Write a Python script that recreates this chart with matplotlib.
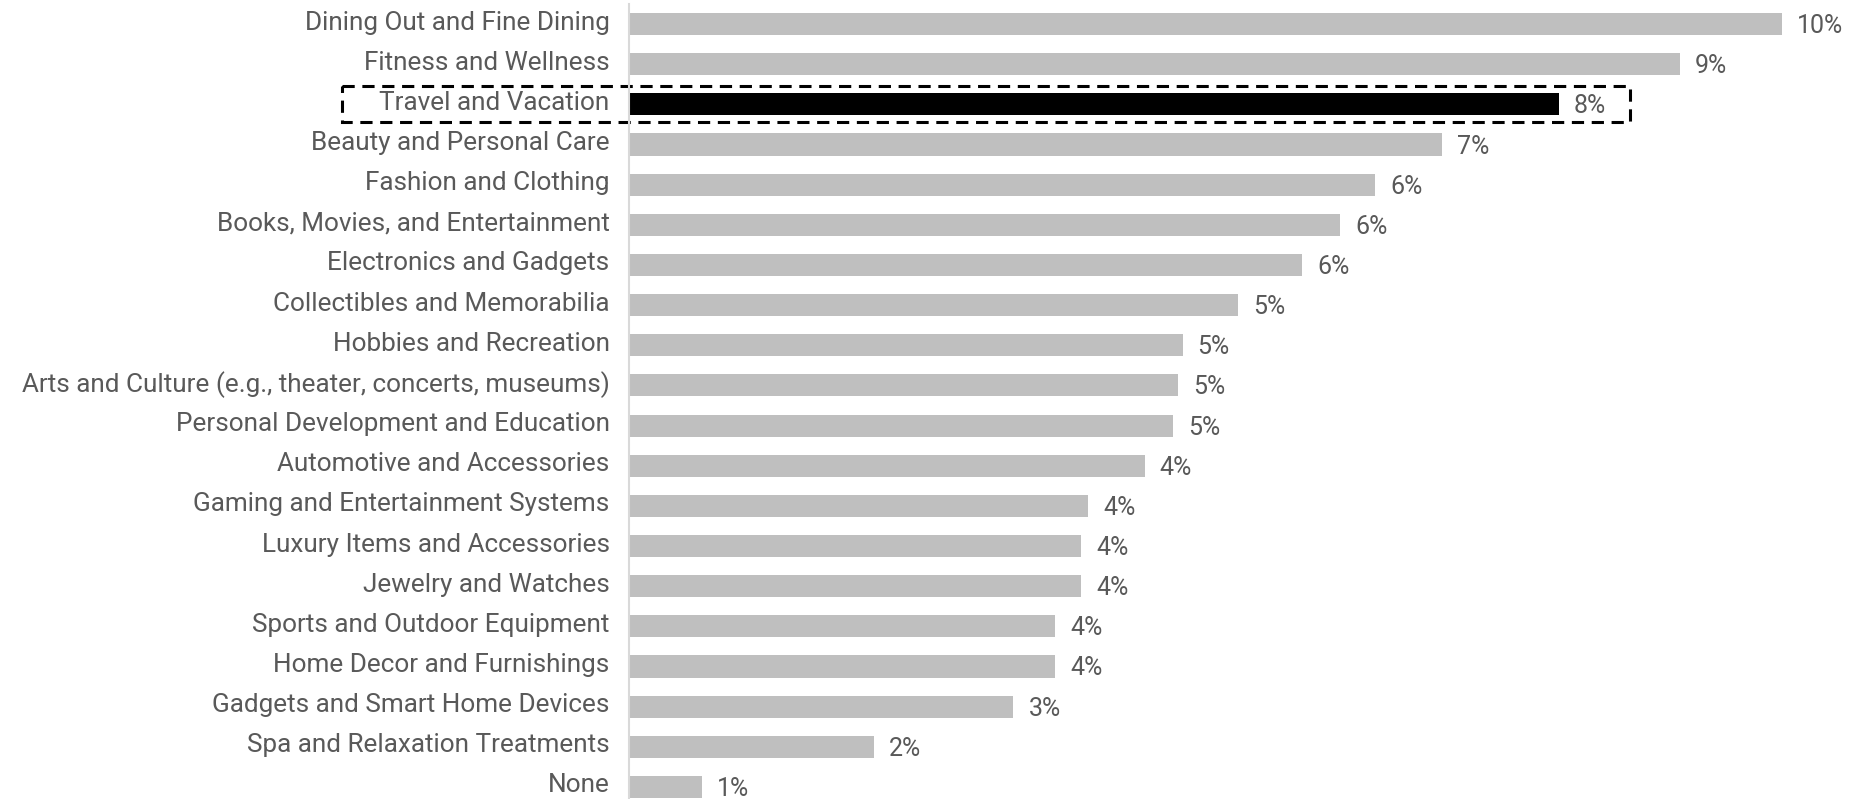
import matplotlib.pyplot as plt
import matplotlib.transforms as mtransforms
from matplotlib.patches import Rectangle

categories = [
    "Dining Out and Fine Dining",
    "Fitness and Wellness",
    "Travel and Vacation",
    "Beauty and Personal Care",
    "Fashion and Clothing",
    "Books, Movies, and Entertainment",
    "Electronics and Gadgets",
    "Collectibles and Memorabilia",
    "Hobbies and Recreation",
    "Arts and Culture (e.g., theater, concerts, museums)",
    "Personal Development and Education",
    "Automotive and Accessories",
    "Gaming and Entertainment Systems",
    "Luxury Items and Accessories",
    "Jewelry and Watches",
    "Sports and Outdoor Equipment",
    "Home Decor and Furnishings",
    "Gadgets and Smart Home Devices",
    "Spa and Relaxation Treatments",
    "None",
]
values = [9.75, 8.88, 7.86, 6.87, 6.31, 6.01, 5.69, 5.15, 4.68, 4.64,
          4.60, 4.36, 3.88, 3.82, 3.82, 3.60, 3.60, 3.25, 2.07, 0.62]
labels = ["10%", "9%", "8%", "7%", "6%", "6%", "6%", "5%", "5%", "5%",
          "5%", "4%", "4%", "4%", "4%", "4%", "4%", "3%", "2%", "1%"]
highlight = "Travel and Vacation"

plt.rcParams['font.family'] = ['Roboto', 'DejaVu Sans']
text_color = "#595959"

W, H = 1855, 799
fig = plt.figure(figsize=(W / 100, H / 100), dpi=100)
left_px, top_px = 629, 4
ax = fig.add_axes([left_px / W, 0, 1 - left_px / W, (H - top_px) / H])

colors = ["#000000" if c == highlight else "#bfbfbf" for c in categories]
y = list(range(len(categories)))
ax.barh(y, values, height=0.55, color=colors)

for yi, v, lab in zip(y, values, labels):
    ax.annotate(lab, (v, yi), xytext=(15, -2), textcoords="offset pixels",
                va="center", ha="left", fontsize=18, color=text_color)

ax.set_xlim(0, (W - left_px) / 118.3)
ax.set_ylim(19.3, -0.5)
ax.set_yticks(y)
ax.set_yticklabels(categories, fontsize=18.8, color=text_color)
ax.tick_params(axis="y", length=0, pad=14)
# labels sit a little above the bar centres in the original
shift = mtransforms.ScaledTranslation(0, 4 / 100, fig.dpi_scale_trans)
for t in ax.get_yticklabels():
    t.set_transform(t.get_transform() + shift)
ax.set_xticks([])
for s in ["top", "right", "bottom"]:
    ax.spines[s].set_visible(False)
ax.spines["left"].set_color("#d9d9d9")
ax.spines["left"].set_linewidth(1.5)

# dashed box around highlighted row
hi = categories.index(highlight)
box = Rectangle((-2.43, hi - 0.45), 8.46 + 2.43, 0.9, fill=False,
                edgecolor="black", linewidth=2.2, linestyle=(0, (4, 2.5)),
                clip_on=False)
ax.add_patch(box)

fig.savefig("out.png", dpi=100)
